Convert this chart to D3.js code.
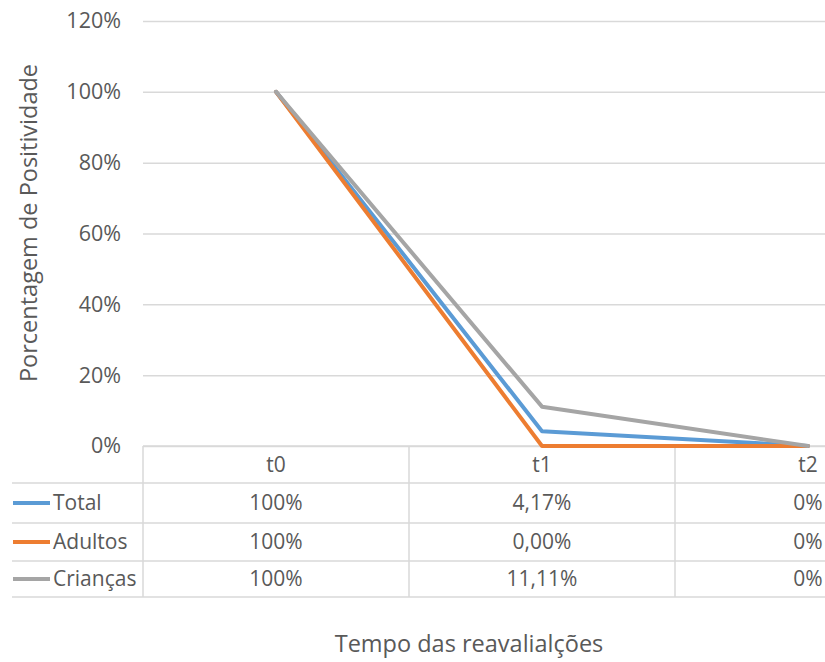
<!DOCTYPE html>
<html>
<head>
<meta charset="utf-8">
<script src="https://cdn.jsdelivr.net/npm/d3@7"></script>
<style>
  html, body { margin: 0; padding: 0; background: #fff; }
  svg text { font-family: "Open Sans", Lato, sans-serif; fill: #595959; }
</style>
</head>
<body>
<svg id="chart" width="825" height="662"></svg>
<script>
// Time points of the re-evaluations
const categories = ["t0", "t1", "t2"];

// Positivity share per group at each time point
const seriesNames = ["Total", "Adultos", "Crianças"];
const totalValues = [1.00, 0.0417, 0];
const adultValues = [1.00, 0.0000, 0];
const childValues = [1.00, 0.1111, 0];
const seriesColors = ["#5B9BD5", "#ED7D31", "#A5A5A5"];

// Decimal places shown in the data table, per time point
const tableDecimals = [0, 2, 0];

// Y-axis ticks
const yTicks = [0, 0.2, 0.4, 0.6, 0.8, 1.0, 1.2];

const series = seriesNames.map((name, i) => ({
  name,
  color: seriesColors[i],
  values: [totalValues, adultValues, childValues][i]
}));

const svg = d3.select("#chart");

const plotLeft = 143, plotRight = 941, plotTop = 21, plotBottom = 446;
const labelSize = 21;
const titleSize = 23.5;

const x = d3.scaleBand().domain(categories).range([plotLeft, plotRight]);
const xc = c => x(c) + x.bandwidth() / 2;
const y = d3.scaleLinear().domain([0, 1.2]).range([plotBottom, plotTop]);

const ptBR = d3.formatLocale({ decimal: ",", thousands: ".", grouping: [3], currency: ["R$", ""] });

// Horizontal gridlines and Y tick labels
const yAxis = d3.axisLeft(y)
  .tickValues(yTicks)
  .tickFormat(ptBR.format(".0%"))
  .tickSize(-(825 - plotLeft))
  .tickPadding(22);

const gy = svg.append("g")
  .attr("transform", `translate(${plotLeft},0)`)
  .call(yAxis);
gy.select(".domain").remove();
gy.selectAll(".tick line").attr("stroke", "#d9d9d9").attr("stroke-width", 1.5);
gy.selectAll(".tick text")
  .attr("font-size", 21.5)
  .attr("fill", "#595959")
  .style("font-family", "'Open Sans', Lato, sans-serif");

// Y-axis title
svg.append("text")
  .attr("transform", `translate(37,223) rotate(-90)`)
  .attr("text-anchor", "middle")
  .attr("font-size", titleSize)
  .text("Porcentagem de Positividade");

// Data table beneath the plot
const rowLines = [446, 483, 523, 561, 597];
const tableLeft = 12;
const grid = svg.append("g").attr("stroke", "#d9d9d9").attr("stroke-width", 1.5);

rowLines.slice(1).forEach(ry => {
  grid.append("line").attr("x1", tableLeft).attr("x2", 825).attr("y1", ry).attr("y2", ry);
});
grid.append("line").attr("x1", plotLeft).attr("x2", 825).attr("y1", rowLines[0]).attr("y2", rowLines[0]);
categories.forEach(c => {
  grid.append("line")
    .attr("x1", x(c)).attr("x2", x(c))
    .attr("y1", rowLines[0]).attr("y2", rowLines[rowLines.length - 1]);
});

const rowMid = i => (rowLines[i] + rowLines[i + 1]) / 2;

// Header row
svg.append("g").selectAll("text")
  .data(categories)
  .join("text")
  .attr("x", d => xc(d))
  .attr("y", rowMid(0))
  .attr("dy", "0.35em")
  .attr("text-anchor", "middle")
  .attr("font-size", labelSize)
  .text(d => d);

// Series rows: legend key, name and values
series.forEach((s, i) => {
  const cy = rowMid(i + 1);
  svg.append("line")
    .attr("x1", 13).attr("x2", 50)
    .attr("y1", cy).attr("y2", cy)
    .attr("stroke", s.color).attr("stroke-width", 4);
  svg.append("text")
    .attr("x", 53).attr("y", cy).attr("dy", "0.35em")
    .attr("font-size", labelSize)
    .text(s.name);
  svg.append("g").selectAll("text")
    .data(s.values)
    .join("text")
    .attr("x", (d, j) => xc(categories[j]))
    .attr("y", cy)
    .attr("dy", "0.35em")
    .attr("text-anchor", "middle")
    .attr("font-size", labelSize)
    .text((d, j) => ptBR.format(`.${tableDecimals[j]}%`)(d));
});

// Lines
const line = d3.line()
  .x((d, j) => xc(categories[j]))
  .y(d => y(d));

svg.append("g").selectAll("path")
  .data(series)
  .join("path")
  .attr("d", d => line(d.values))
  .attr("fill", "none")
  .attr("stroke", d => d.color)
  .attr("stroke-width", 4)
  .attr("stroke-linejoin", "round")
  .attr("stroke-linecap", "round");

// X-axis title
svg.append("text")
  .attr("x", 469)
  .attr("y", 652)
  .attr("text-anchor", "middle")
  .attr("font-size", titleSize)
  .text("Tempo das reavalialções");
</script>
</body>
</html>
